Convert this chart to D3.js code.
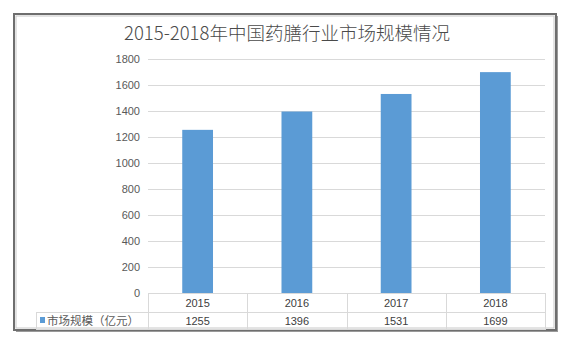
<!DOCTYPE html>
<html><head><meta charset="utf-8">
<script src="https://cdn.jsdelivr.net/npm/d3@7"></script>
<style>body{margin:0;background:#fff;} svg{display:block;}</style>
</head><body>
<script>
const title = "2015-2018年中国药膳行业市场规模情况";
const categories = ["2015","2016","2017","2018"];
const seriesName = "市场规模（亿元）";
const values = [1255,1396,1531,1699];
const yTicks = [0,200,400,600,800,1000,1200,1400,1600,1800];

const W=573,H=348;
const svg=d3.select("body").append("svg").attr("width",W).attr("height",H);
const font="'Liberation Sans','Noto Sans CJK SC',sans-serif";
const cjk="'Noto Sans CJK SC',sans-serif";

// frame with shadow
svg.append("rect").attr("x",16).attr("y",16).attr("width",542).attr("height",316).attr("fill","#9a9a9a");
svg.append("rect").attr("x",14).attr("y",14).attr("width",542).attr("height",316).attr("fill","#fff").attr("stroke","#6e6e6e").attr("stroke-width",2);
svg.append("rect").attr("x",16).attr("y",16).attr("width",538).attr("height",312).attr("fill","none").attr("stroke","#c8c8c8").attr("stroke-width",1);

svg.append("text").attr("x",287).attr("y",40).attr("text-anchor","middle")
  .attr("font-family",cjk).attr("font-size",18.5).attr("font-weight",300).attr("fill","#4a4a4a").text(title);

const x=d3.scaleBand().domain(categories).range([148,545]).padding(0);
const y=d3.scaleLinear().domain([0,1800]).range([293,59]);

// gridlines
svg.append("g").selectAll("line").data(yTicks.filter(d=>d>0)).join("line")
  .attr("x1",148).attr("x2",545).attr("y1",d=>y(d)+0.5).attr("y2",d=>y(d)+0.5)
  .attr("stroke","#d9d9d9").attr("stroke-width",1);

// y axis labels
const yAxis=d3.axisLeft(y).tickValues(yTicks).tickFormat(d3.format("d")).tickSize(0).tickPadding(8);
const gy=svg.append("g").attr("transform","translate(148,0)").call(yAxis);
gy.select(".domain").remove();
gy.selectAll("text").attr("font-family",font).attr("font-size",11).attr("fill","#595959");

// bars
const bw=x.bandwidth()*0.31;
svg.append("g").selectAll("rect").data(values).join("rect")
  .attr("x",(d,i)=>x(categories[i])+x.bandwidth()/2-bw/2)
  .attr("width",bw)
  .attr("y",d=>y(d)).attr("height",d=>y(0)-y(d))
  .attr("fill","#5b9bd5");

// data table
const t=svg.append("g").attr("stroke","#d9d9d9").attr("stroke-width",1);
t.append("line").attr("x1",148).attr("x2",545).attr("y1",293.5).attr("y2",293.5);
t.append("line").attr("x1",36).attr("x2",545).attr("y1",312.5).attr("y2",312.5);
t.append("line").attr("x1",36).attr("x2",545).attr("y1",329.5).attr("y2",329.5);
t.append("line").attr("x1",36.5).attr("x2",36.5).attr("y1",312).attr("y2",330);
const vx=categories.map(c=>x(c)).concat([545]);
t.selectAll(".v").data(vx).join("line").attr("class","v")
  .attr("x1",d=>Math.round(d)+0.5).attr("x2",d=>Math.round(d)+0.5).attr("y1",293).attr("y2",330);

svg.append("g").selectAll("text").data(categories).join("text")
  .attr("x",d=>x(d)+x.bandwidth()/2).attr("y",307).attr("text-anchor","middle")
  .attr("font-family",font).attr("font-size",11).attr("fill","#404040").text(d=>d);
svg.append("g").selectAll("text").data(values).join("text")
  .attr("x",(d,i)=>x(categories[i])+x.bandwidth()/2).attr("y",325).attr("text-anchor","middle")
  .attr("font-family",font).attr("font-size",11).attr("fill","#404040").text(d=>d);

svg.append("rect").attr("x",40).attr("y",317).attr("width",5).attr("height",6).attr("fill","#5b9bd5");
svg.append("text").attr("x",47).attr("y",325).attr("font-family",cjk).attr("font-size",11.5)
  .attr("fill","#595959").text(seriesName);
</script>
</body></html>
